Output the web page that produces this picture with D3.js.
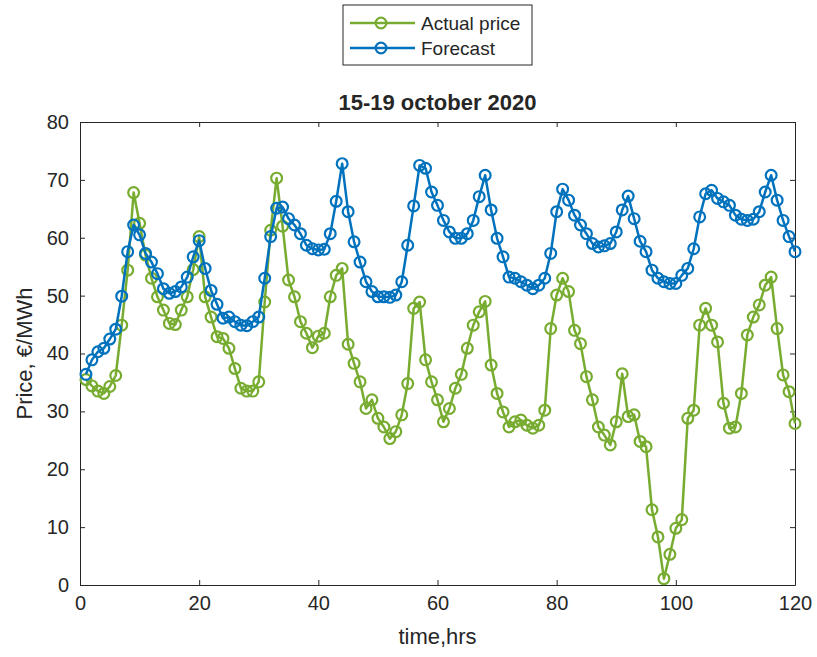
<!DOCTYPE html>
<html>
<head>
<meta charset="utf-8">
<script src="https://cdn.jsdelivr.net/npm/d3@7"></script>
<style>
  body { margin: 0; background: #fff; }
  svg text { font-family: "Liberation Sans", Arial, sans-serif; fill: #262626; }
</style>
</head>
<body>
<div id="chart"></div>
<script>
// hourly values, hours 1..120
const actualPrice = [
  35.5, 34.4, 33.5, 33.1, 34.3, 36.2, 44.9, 54.4, 67.8, 62.5,
  57.0, 53.0, 49.8, 47.5, 45.2, 45.0, 47.5, 49.8, 54.5, 60.2,
  49.8, 46.3, 42.9, 42.6, 40.9, 37.4, 34.0, 33.5, 33.5, 35.1,
  48.9, 61.3, 70.3, 62.0, 52.7, 49.8, 45.5, 43.5, 41.0, 43.0,
  43.5, 49.8, 53.5, 54.7, 41.6, 38.3, 35.1, 30.5, 32.0, 28.8,
  27.3, 25.3, 26.5, 29.4, 34.8, 47.8, 48.9, 38.9, 35.1, 32.0,
  28.2, 30.5, 34.0, 36.4, 40.9, 44.9, 47.2, 49.0, 38.0, 33.1,
  29.9, 27.3, 28.2, 28.5, 27.6, 27.1, 27.6, 30.2, 44.3, 50.1,
  53.0, 50.7, 44.0, 41.7, 36.0, 32.0, 27.3, 25.9, 24.2, 28.2,
  36.5, 29.1, 29.4, 24.8, 23.9, 13.0, 8.3, 1.1, 5.3, 9.8,
  11.3, 28.8, 30.2, 44.9, 47.8, 44.9, 42.0, 31.4, 27.1, 27.3,
  33.1, 43.2, 46.3, 48.4, 51.8, 53.2, 44.3, 36.3, 33.4, 27.9
];
const forecast = [
  36.4, 38.9, 40.3, 40.9, 42.5, 44.2, 49.9, 57.6, 62.2, 60.5,
  57.3, 55.8, 53.8, 51.2, 50.4, 50.7, 51.5, 53.2, 56.7, 59.5,
  54.7, 50.9, 48.5, 46.1, 46.3, 45.5, 44.9, 44.8, 45.5, 46.3,
  53.0, 60.2, 65.1, 65.3, 63.3, 62.2, 60.7, 58.7, 58.1, 57.9,
  58.0, 60.7, 66.3, 72.8, 64.5, 59.3, 55.8, 52.4, 50.7, 49.8,
  49.8, 49.7, 50.1, 52.4, 58.7, 65.5, 72.5, 72.0, 67.9, 65.6,
  63.0, 61.0, 59.9, 59.9, 60.7, 63.0, 67.1, 70.8, 64.8, 59.9,
  56.7, 53.2, 53.0, 52.4, 51.8, 51.2, 51.8, 53.0, 57.3, 64.5,
  68.4, 66.5, 63.9, 62.2, 60.7, 59.0, 58.4, 58.6, 59.0, 61.0,
  64.8, 67.2, 63.3, 59.4, 57.6, 54.4, 53.0, 52.4, 52.1, 52.1,
  53.5, 54.7, 58.1, 63.6, 67.6, 68.2, 66.8, 66.2, 65.6, 63.9,
  63.2, 63.0, 63.2, 64.5, 67.9, 70.8, 66.5, 63.0, 60.2, 57.6
];
const hours = d3.range(1, 121);
const xTicks = [0, 20, 40, 60, 80, 100, 120];
const yTicks = [0, 10, 20, 30, 40, 50, 60, 70, 80];
const seriesNames = ['Actual price', 'Forecast'];
const seriesColors = ['#77AC30', '#0072BD'];

const W = 817, H = 657;
const margin = { top: 122, right: 22, bottom: 72, left: 80 };
const innerW = W - margin.left - margin.right;
const innerH = H - margin.top - margin.bottom;

const svg = d3.select('#chart').append('svg')
  .attr('width', W).attr('height', H);

const x = d3.scaleLinear().domain([0, 120]).range([margin.left, margin.left + innerW]);
const y = d3.scaleLinear().domain([0, 80]).range([margin.top + innerH, margin.top]);

// axes, MATLAB style: ticks pointing inward, box on
const axisColor = '#262626';
const gx = svg.append('g')
  .attr('transform', `translate(0,${margin.top + innerH})`)
  .call(d3.axisBottom(x).tickValues(xTicks).tickSizeInner(-5).tickSizeOuter(0).tickPadding(11));
const gy = svg.append('g')
  .attr('transform', `translate(${margin.left},0)`)
  .call(d3.axisLeft(y).tickValues(yTicks).tickSizeInner(-5).tickSizeOuter(0).tickPadding(11));
const gxTop = svg.append('g')
  .attr('transform', `translate(0,${margin.top})`)
  .call(d3.axisTop(x).tickValues(xTicks).tickSizeInner(-5).tickSizeOuter(0).tickFormat(''));
const gyRight = svg.append('g')
  .attr('transform', `translate(${margin.left + innerW},0)`)
  .call(d3.axisRight(y).tickValues(yTicks).tickSizeInner(-5).tickSizeOuter(0).tickFormat(''));

[gx, gy, gxTop, gyRight].forEach(g => {
  g.select('.domain').attr('stroke', axisColor).attr('stroke-width', 1);
  g.selectAll('.tick line').attr('stroke', axisColor);
  g.selectAll('.tick text').style('font-size', '20px').attr('fill', axisColor);
});

// series lines + circle markers
const line = d3.line().x((d, i) => x(hours[i])).y(d => y(d));
[actualPrice, forecast].forEach((vals, s) => {
  const g = svg.append('g');
  g.append('path')
    .datum(vals)
    .attr('fill', 'none')
    .attr('stroke', seriesColors[s])
    .attr('stroke-width', 2.5)
    .attr('stroke-linejoin', 'round')
    .attr('d', line);
  g.selectAll('circle')
    .data(vals)
    .enter()
    .append('circle')
    .attr('cx', (d, i) => x(hours[i]))
    .attr('cy', d => y(d))
    .attr('r', 5.4)
    .attr('fill', 'none')
    .attr('stroke', seriesColors[s])
    .attr('stroke-width', 2.2);
});

// title and axis labels
svg.append('text')
  .attr('x', margin.left + innerW / 2).attr('y', 110)
  .attr('text-anchor', 'middle')
  .style('font-size', '22px').style('font-weight', 'bold')
  .text('15-19 october 2020');
svg.append('text')
  .attr('x', margin.left + innerW / 2).attr('y', 644)
  .attr('text-anchor', 'middle')
  .style('font-size', '22px')
  .text('time,hrs');
svg.append('text')
  .attr('transform', `translate(32,${margin.top + innerH / 2}) rotate(-90)`)
  .attr('text-anchor', 'middle')
  .style('font-size', '22px')
  .text('Price, €/MWh');

// legend
const legend = svg.append('g').attr('transform', 'translate(343,5)');
legend.append('rect')
  .attr('width', 189).attr('height', 60)
  .attr('fill', '#fff').attr('stroke', axisColor).attr('stroke-width', 1);
seriesNames.forEach((name, i) => {
  const ly = 18 + i * 25;
  legend.append('line')
    .attr('x1', 7).attr('x2', 72).attr('y1', ly).attr('y2', ly)
    .attr('stroke', seriesColors[i]).attr('stroke-width', 2.5);
  legend.append('circle')
    .attr('cx', 38).attr('cy', ly).attr('r', 5.4)
    .attr('fill', 'none').attr('stroke', seriesColors[i]).attr('stroke-width', 2.2);
  legend.append('text')
    .attr('x', 78).attr('y', ly + 7)
    .style('font-size', '19px')
    .text(name);
});
</script>
</body>
</html>
